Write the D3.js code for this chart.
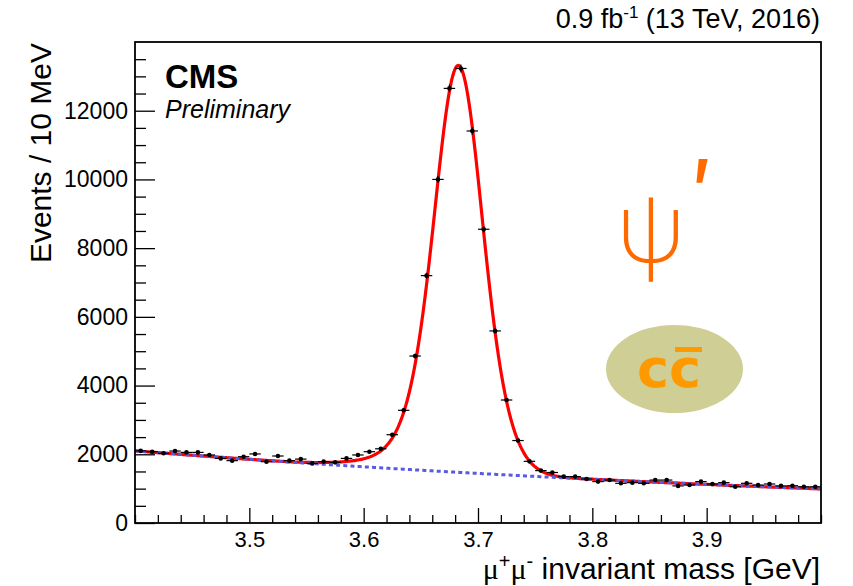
<!DOCTYPE html>
<html>
<head>
<meta charset="utf-8">
<script src="https://cdn.jsdelivr.net/npm/d3@7/dist/d3.min.js"></script>
<style>
  html, body { margin: 0; padding: 0; background: #fff; }
  svg { display: block; }
  text { font-family: "Liberation Sans", Arial, Helvetica, sans-serif; fill: #000; }
</style>
</head>
<body>
<svg id="chart" width="853" height="586"></svg>
<script>
// Dimuon invariant-mass spectrum, 10 MeV bins from 3.40 to 4.00 GeV
const binLow = 3.4;
const binWidth = 0.01;
const counts = [
  2100, 2075, 2030, 2095, 2055, 2055, 1980, 1880, 1815, 1930,
  2010, 1785, 1950, 1815, 1860, 1735, 1785, 1765, 1880, 1980,
  2075, 2160, 2570, 3280, 4860, 7200, 10000, 12650, 13230, 11410,
  8550, 5590, 3580, 2400, 1795, 1525, 1470, 1350, 1350, 1280,
  1205, 1250, 1155, 1175, 1155, 1250, 1250, 1080, 1105, 1205,
  1135, 1175, 1055, 1155, 1105, 1135, 1080, 1085, 1055, 1055
];

// Fit result: three Gaussians for the psi(2S) signal on an exponential background
const sigAmp   = [5900, 5774, 300];
const sigMean  = [3.683, 3.683, 3.64];
const sigWidth = [0.018, 0.027, 0.04];
const bkgNorm  = 2100;   // events / 10 MeV at 3.40 GeV
const bkgSlope = -1.25;  // per GeV

// Axis ticks
const xMajor = [3.5, 3.6, 3.7, 3.8, 3.9];
const yMajor = [0, 2000, 4000, 6000, 8000, 10000, 12000];
const xDomain = [3.4, 4.0];
const yDomain = [0, 14000];

const svg = d3.select("#chart");
const frame = { left: 135, right: 821, top: 42, bottom: 523 };

const x = d3.scaleLinear().domain(xDomain).range([frame.left, frame.right]);
const y = d3.scaleLinear().domain(yDomain).range([frame.bottom, frame.top]);

const bkg = m => bkgNorm * Math.exp(bkgSlope * (m - binLow));
const sig = m => d3.sum(sigAmp, (a, i) =>
  a * Math.exp(-0.5 * Math.pow((m - sigMean[i]) / sigWidth[i], 2)));
const total = m => bkg(m) + sig(m);

svg.append("defs").append("clipPath").attr("id", "plotArea")
  .append("rect")
  .attr("x", frame.left).attr("y", frame.top)
  .attr("width", frame.right - frame.left)
  .attr("height", frame.bottom - frame.top);

// Axes with inward ticks
const xMinor = d3.range(3.4, 4.0001, 0.02).filter(v => !xMajor.some(t => Math.abs(t - v) < 1e-6));
const yMinor = d3.range(0, 14001, 500).filter(v => v % 2000 !== 0);

svg.append("g").attr("transform", `translate(0,${frame.bottom})`)
  .call(d3.axisBottom(x).tickValues(xMajor).tickSize(-15).tickPadding(8)
    .tickFormat(d3.format(".1f")));
svg.append("g").attr("transform", `translate(0,${frame.bottom})`)
  .call(d3.axisBottom(x).tickValues(xMinor).tickSize(-8).tickFormat(""));

svg.append("g").attr("transform", `translate(${frame.left},0)`)
  .call(d3.axisLeft(y).tickValues(yMajor).tickSize(-20).tickPadding(7)
    .tickFormat(d3.format("d")));
svg.append("g").attr("transform", `translate(${frame.left},0)`)
  .call(d3.axisLeft(y).tickValues(yMinor).tickSize(-11).tickFormat(""));

svg.selectAll(".domain").remove();
svg.selectAll(".tick line").attr("stroke", "#000").attr("stroke-width", 1.3);
svg.selectAll(".tick text")
  .style("font-family", '"Liberation Sans", Arial, sans-serif')
  .style("font-size", "23px").attr("fill", "#000");
// x labels a touch smaller so they clear the axis title
svg.selectAll("g").filter(function () { return this.getAttribute("transform") === `translate(0,${frame.bottom})`; })
  .selectAll(".tick text").style("font-size", "22px");

// Fit curves
const grid = d3.range(3.4, 4.0005, 0.001);
const plot = svg.append("g").attr("clip-path", "url(#plotArea)");

plot.append("path")
  .datum(grid)
  .attr("fill", "none")
  .attr("stroke", "#ff0000")
  .attr("stroke-width", 3.2)
  .attr("d", d3.line().x(m => x(m)).y(m => y(total(m))));

plot.append("path")
  .datum(grid)
  .attr("fill", "none")
  .attr("stroke", "#5a5ae0")
  .attr("stroke-width", 3)
  .attr("stroke-dasharray", "4,3.2")
  .attr("d", d3.line().x(m => x(m)).y(m => y(bkg(m))));

// Data points with statistical and bin-width error bars
const points = counts.map((n, i) => ({ m: binLow + (i + 0.5) * binWidth, n }));
const pts = plot.append("g").selectAll("g").data(points).join("g");
pts.append("line")
  .attr("x1", d => x(d.m - binWidth / 2)).attr("x2", d => x(d.m + binWidth / 2))
  .attr("y1", d => y(d.n)).attr("y2", d => y(d.n))
  .attr("stroke", "#000").attr("stroke-width", 1.2);
pts.append("line")
  .attr("x1", d => x(d.m)).attr("x2", d => x(d.m))
  .attr("y1", d => y(d.n - Math.sqrt(d.n))).attr("y2", d => y(d.n + Math.sqrt(d.n)))
  .attr("stroke", "#000").attr("stroke-width", 1.2);
pts.append("circle")
  .attr("cx", d => x(d.m)).attr("cy", d => y(d.n)).attr("r", 2.3)
  .attr("fill", "#000");

// Frame
svg.append("rect")
  .attr("x", frame.left).attr("y", frame.top)
  .attr("width", frame.right - frame.left)
  .attr("height", frame.bottom - frame.top)
  .attr("fill", "none").attr("stroke", "#000").attr("stroke-width", 1.8);

// Titles
svg.append("text")
  .attr("transform", `translate(51,${frame.top + 1}) rotate(-90)`)
  .attr("text-anchor", "end")
  .style("font-size", "30px")
  .text("Events / 10 MeV");

const xTitle = svg.append("text")
  .attr("x", 820).attr("y", 579)
  .attr("text-anchor", "end")
  .style("font-size", "30px");
xTitle.append("tspan").style("font-family", '"Liberation Serif", serif').text("μ");
xTitle.append("tspan").attr("dy", -11).style("font-size", "20px").text("+");
xTitle.append("tspan").attr("dy", 11).style("font-family", '"Liberation Serif", serif').text("μ");
xTitle.append("tspan").attr("dy", -11).style("font-size", "20px").text("-");
xTitle.append("tspan").attr("dy", 11).text(" invariant mass [GeV]");

const lumi = svg.append("text")
  .attr("x", 820).attr("y", 28)
  .attr("text-anchor", "end")
  .style("font-size", "27px");
lumi.append("tspan").text("0.9 fb");
lumi.append("tspan").attr("dy", -10).style("font-size", "17px").text("-1");
lumi.append("tspan").attr("dy", 10).text(" (13 TeV, 2016)");

svg.append("text")
  .attr("x", 165).attr("y", 88)
  .style("font-size", "33px").style("font-weight", "bold")
  .text("CMS");
svg.append("text")
  .attr("x", 165).attr("y", 118)
  .style("font-size", "25px").style("font-style", "italic")
  .text("Preliminary");

// Resonance sketch: psi-prime and its charm-anticharm content
const orange = "#ff6a00";
svg.append("text")
  .attr("x", 651).attr("y", 262)
  .attr("text-anchor", "middle")
  .style("font-family", "Inter, 'DejaVu Sans', sans-serif")
  .style("font-weight", 200)
  .style("font-size", "96px")
  .style("fill", orange)
  .text("ψ");
svg.append("text")
  .attr("x", 702).attr("y", 224)
  .attr("text-anchor", "middle")
  .style("font-family", "Inter, 'DejaVu Sans', sans-serif")
  .style("font-weight", 400)
  .style("font-size", "90px")
  .style("fill", orange)
  .text("′");

svg.append("ellipse")
  .attr("cx", 674.5).attr("cy", 369)
  .attr("rx", 68.5).attr("ry", 44)
  .attr("fill", "#cfcf95");
svg.append("text")
  .attr("x", 669).attr("y", 387)
  .attr("text-anchor", "middle")
  .style("font-family", '"DejaVu Sans", sans-serif')
  .style("font-size", "54px").style("font-weight", "bold")
  .style("fill", "#ff9900")
  .text("cc\u0305");
</script>
</body>
</html>
